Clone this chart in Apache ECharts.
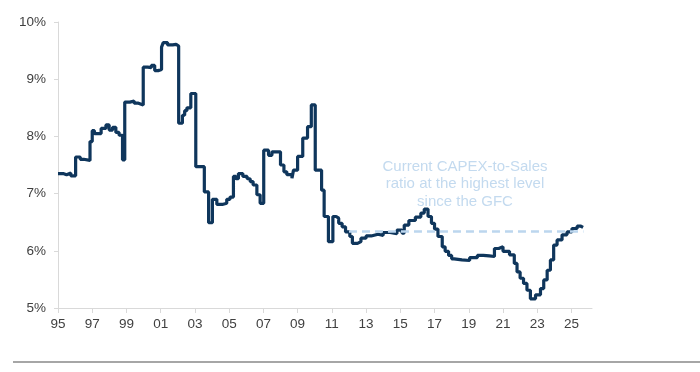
<!DOCTYPE html>
<html>
<head>
<meta charset="utf-8">
<script src="https://cdn.jsdelivr.net/npm/echarts@6/dist/echarts.min.js"></script>
<style>
  html, body { margin: 0; padding: 0; background: #ffffff; }
  #chart { width: 700px; height: 372px; }
</style>
</head>
<body>
<div id="chart"></div>
<script>
// Step points: year (fractional) at which the ratio changes, and the new value (%)
const years = [
  1995.00, 1995.30, 1995.50, 1995.75, 1996.03, 1996.30, 1996.50, 1996.87, 1997.00, 1997.13,
  1997.52, 1997.80, 1997.99, 1998.19, 1998.38, 1998.57, 1998.77, 1998.90, 1999.20, 1999.45,
  1999.70, 1999.98, 2000.25, 2000.45, 2000.65, 2000.85, 2001.05, 2001.15, 2001.40, 2001.70,
  2001.90, 2002.05, 2002.27, 2002.40, 2002.53, 2002.76, 2003.05, 2003.55, 2003.80, 2004.02,
  2004.28, 2004.60, 2004.86, 2005.05, 2005.25, 2005.40, 2005.54, 2005.80, 2006.05, 2006.23,
  2006.40, 2006.62, 2006.81, 2007.02, 2007.30, 2007.50, 2008.00, 2008.20, 2008.37, 2008.67,
  2008.76, 2009.00, 2009.30, 2009.58, 2009.80, 2010.03, 2010.40, 2010.55, 2010.80, 2011.06,
  2011.25, 2011.40, 2011.60, 2011.80, 2012.05, 2012.20, 2012.50, 2012.70, 2013.00, 2013.30,
  2013.70, 2014.00, 2014.40, 2014.80, 2015.10, 2015.23, 2015.50, 2015.88, 2016.20, 2016.40,
  2016.62, 2016.82, 2017.00, 2017.20, 2017.45, 2017.62, 2017.82, 2018.00, 2018.15, 2018.60,
  2019.05, 2019.50, 2019.85, 2020.20, 2020.50, 2020.75, 2021.00, 2021.38, 2021.66, 2021.82,
  2022.00, 2022.20, 2022.40, 2022.60, 2022.90, 2023.19, 2023.38, 2023.58, 2023.77, 2023.96,
  2024.16, 2024.45, 2024.74, 2025.03, 2025.33, 2025.55, 2025.68
];
const capexToSales = [
  7.35, 7.33, 7.36, 7.31, 7.64, 7.60, 7.58, 7.91, 8.10, 8.05,
  8.14, 8.20, 8.11, 8.16, 8.07, 8.02, 7.59, 8.60, 8.62, 8.58,
  8.55, 9.21, 9.20, 9.24, 9.15, 9.17, 9.56, 9.64, 9.60, 9.61,
  9.58, 8.23, 8.37, 8.45, 8.50, 8.75, 7.47, 7.03, 6.49, 6.90,
  6.81, 6.83, 6.90, 6.94, 7.30, 7.26, 7.35, 7.30, 7.26, 7.21,
  7.15, 6.98, 6.83, 7.76, 7.67, 7.73, 7.50, 7.38, 7.33, 7.27,
  7.41, 7.65, 7.97, 8.17, 8.55, 7.41, 7.06, 6.60, 6.16, 6.60,
  6.57, 6.48, 6.42, 6.33, 6.25, 6.13, 6.16, 6.22, 6.26, 6.29,
  6.27, 6.32, 6.30, 6.36, 6.31, 6.45, 6.53, 6.59, 6.66, 6.73,
  6.60, 6.48, 6.38, 6.25, 6.07, 5.99, 5.92, 5.86, 5.84, 5.83,
  5.88, 5.92, 5.91, 5.90, 6.04, 6.07, 5.99, 5.93, 5.78, 5.63,
  5.52, 5.43, 5.31, 5.16, 5.23, 5.34, 5.49, 5.66, 5.84, 6.10,
  6.19, 6.28, 6.33, 6.39, 6.43, 6.41, 6.41
];
const xTickYears = [1995, 1997, 1999, 2001, 2003, 2005, 2007, 2009, 2011, 2013, 2015, 2017, 2019, 2021, 2023, 2025];
const yTicks = [5, 6, 7, 8, 9, 10];
const refLevel = 6.35;
const refStart = 2012.0;
const refEnd = 2025.7;
const annotationLines = ['Current CAPEX-to-Sales', 'ratio at the highest level', 'since the GFC'];

const seriesData = years.map((y, i) => [y, capexToSales[i]]);

const chart = echarts.init(document.getElementById('chart'), null, { renderer: 'canvas' });
const font = '"Liberation Sans", Arial, sans-serif';
chart.setOption({
  animation: false,
  backgroundColor: '#ffffff',
  grid: { left: 58, right: 108, top: 22, bottom: 64 },
  xAxis: {
    type: 'value',
    min: 1995,
    max: 2026.2,
    axisLine: { show: true, lineStyle: { color: '#d9d9d9', width: 1 } },
    axisTick: { show: true, length: 5, customValues: xTickYears, lineStyle: { color: '#d9d9d9' } },
    axisLabel: {
      customValues: xTickYears,
      formatter: v => String(Math.round(v) % 100).padStart(2, '0'),
      color: '#404040', fontSize: 13.5, fontFamily: font, margin: 9
    },
    splitLine: { show: false }
  },
  yAxis: {
    type: 'value',
    min: 5, max: 10, interval: 1,
    axisLine: { show: true, lineStyle: { color: '#d9d9d9', width: 1 } },
    axisTick: { show: true, length: 4, lineStyle: { color: '#d9d9d9' } },
    axisLabel: {
      formatter: v => yTicks.includes(v) ? v + '%' : '',
      color: '#404040', fontSize: 13.5, fontFamily: font, margin: 12
    },
    splitLine: { show: false }
  },
  series: [{
    type: 'line',
    step: 'end',
    data: seriesData,
    showSymbol: false,
    lineStyle: { color: '#0f365c', width: 3.2 },
    markLine: {
      silent: true,
      symbol: ['none', 'none'],
      label: { show: false },
      lineStyle: { color: '#bcd6ee', width: 2.5, type: [8, 5] },
      data: [[{ coord: [refStart, refLevel] }, { coord: [refEnd, refLevel] }]]
    },
    z: 2
  }],
  graphic: [
    {
      type: 'text', x: 465, y: 158,
      style: {
        text: annotationLines.join('\n'),
        fill: '#c3daef', font: '15px ' + font, align: 'center', verticalAlign: 'top', lineHeight: 17.5
      },
      z: 10
    },
    {
      type: 'rect', shape: { x: 13, y: 361, width: 687, height: 2 },
      style: { fill: '#a6a6a6' }
    }
  ]
});
</script>
</body>
</html>
